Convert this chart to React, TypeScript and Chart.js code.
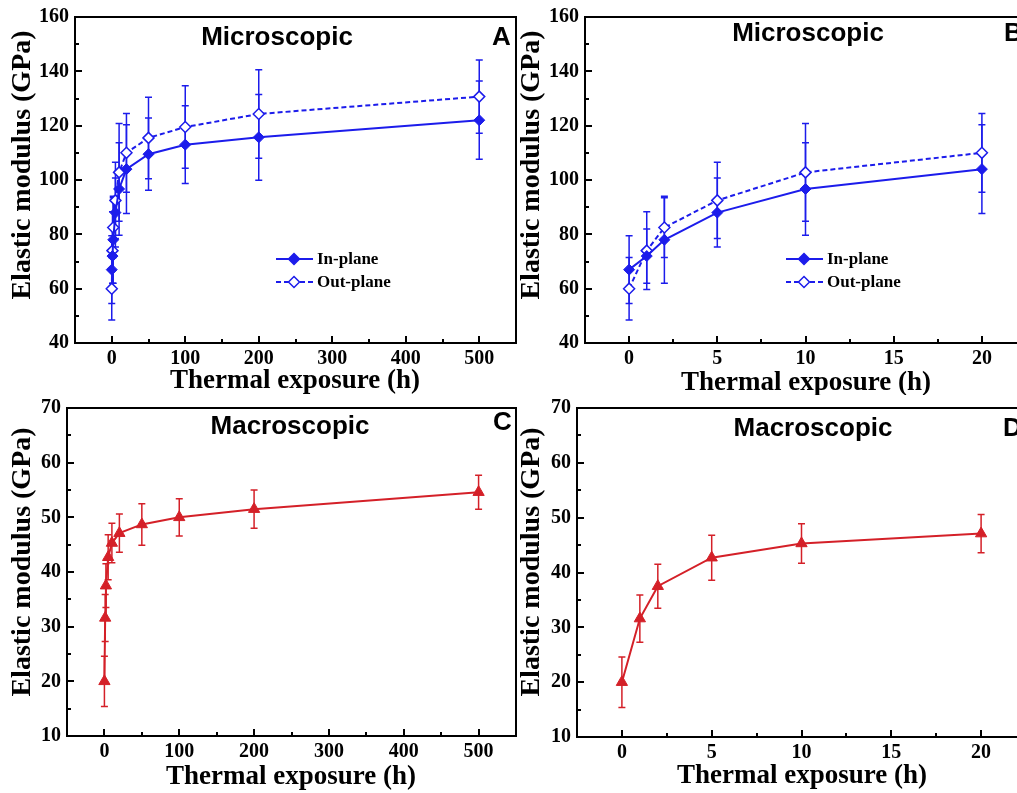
import React, { useEffect, useRef } from "react";
import { Chart, registerables } from "chart.js";

Chart.register(...registerables);

// ---------- data ----------
const exposureLong = [0, 1, 2, 5, 10, 20, 50, 100, 200, 500];
const exposureShort = [0, 1, 2, 5, 10, 20];

const inPlane = [67, 72, 78, 88, 96.7, 104, 109.5, 113, 115.7, 122];
const inPlaneErr = [12.5, 10, 16, 12.7, 17, 16.3, 13.3, 14.3, 15.8, 14.4];
const outPlane = [60, 74, 82.5, 92.5, 102.8, 110, 115.5, 119.5, 124.3, 130.7];
const outPlaneErr = [11.5, 14.3, 11, 14, 18, 14.5, 15, 15.2, 16.3, 13.5];
const macro = [20, 31.6, 37.5, 42.7, 45.3, 47.1, 48.7, 50, 51.5, 54.6];
const macroErr = [4.6, 4.3, 4, 4.1, 3.6, 3.5, 3.8, 3.4, 3.5, 3.1];

const xTicksLong = [0, 100, 200, 300, 400, 500];
const xMinorLong = [50, 150, 250, 350, 450];
const xTicksShort = [0, 5, 10, 15, 20];
const xMinorShort = [2.5, 7.5, 12.5, 17.5];
const yTicksMicro = [40, 60, 80, 100, 120, 140, 160];
const yMinorMicro = [50, 70, 90, 110, 130, 150];
const yTicksMacro = [10, 20, 30, 40, 50, 60, 70];
const yMinorMacro = [15, 25, 35, 45, 55, 65];

const legendLabels = ["In-plane", "Out-plane"];
const titleMicro = "Microscopic";
const titleMacro = "Macroscopic";
const xTitle = "Thermal exposure (h)";
const yTitle = "Elastic modulus (GPa)";

const BLUE = "rgb(28,28,235)";
const RED = "rgb(212,32,40)";
const SERIF = "'Liberation Serif', 'Times New Roman', serif";
const SANS = "'Liberation Sans', Arial, sans-serif";

type Panel = {
  key: string;
  left: number;
  top: number;
  w: number;
  h: number;
  area: { l: number; t: number; r: number; b: number };
  xMin: number;
  xMax: number;
  yMin: number;
  yMax: number;
  xTicks: number[];
  xMinor: number[];
  yTicks: number[];
  yMinor: number[];
  micro: boolean;
  n: number;
  title: string;
  titlePos: [number, number];
  letter: string;
  letterPos: [number, number];
  xTitlePos: [number, number];
  yTitlePos: [number, number];
  legendPos?: [number, number];
};

const panels: Panel[] = [
  {
    key: "A", left: 0, top: 0, w: 530, h: 395,
    area: { l: 75, t: 17, r: 516, b: 343 },
    xMin: -50, xMax: 550, yMin: 40, yMax: 160,
    xTicks: xTicksLong, xMinor: xMinorLong, yTicks: yTicksMicro, yMinor: yMinorMicro,
    micro: true, n: 10, title: titleMicro, titlePos: [277, 38], letter: "A", letterPos: [492, 38],
    xTitlePos: [295, 381], yTitlePos: [23, 165], legendPos: [276, 259],
  },
  {
    key: "B", left: 518, top: 0, w: 520, h: 395,
    area: { l: 67, t: 17, r: 508, b: 343 },
    xMin: -2.5, xMax: 22.5, yMin: 40, yMax: 160,
    xTicks: xTicksShort, xMinor: xMinorShort, yTicks: yTicksMicro, yMinor: yMinorMicro,
    micro: true, n: 6, title: titleMicro, titlePos: [808, 34], letter: "B", letterPos: [1004, 34],
    xTitlePos: [806, 383], yTitlePos: [532, 165], legendPos: [786, 259],
  },
  {
    key: "C", left: 0, top: 395, w: 530, h: 398,
    area: { l: 67, t: 13, r: 516, b: 341 },
    xMin: -50, xMax: 550, yMin: 10, yMax: 70,
    xTicks: xTicksLong, xMinor: xMinorLong, yTicks: yTicksMacro, yMinor: yMinorMacro,
    micro: false, n: 10, title: titleMacro, titlePos: [290, 427], letter: "C", letterPos: [493, 423],
    xTitlePos: [291, 777], yTitlePos: [23, 562],
  },
  {
    key: "D", left: 518, top: 395, w: 520, h: 398,
    area: { l: 59, t: 13, r: 508, b: 342 },
    xMin: -2.5, xMax: 22.5, yMin: 10, yMax: 70,
    xTicks: xTicksShort, xMinor: xMinorShort, yTicks: yTicksMacro, yMinor: yMinorMacro,
    micro: false, n: 6, title: titleMacro, titlePos: [813, 429], letter: "D", letterPos: [1003, 429],
    xTitlePos: [802, 776], yTitlePos: [532, 562],
  },
];

function pts(xs: number[], ys: number[], n: number) {
  return xs.slice(0, n).map((x, i) => ({ x, y: ys[i] }));
}

const errorBarPlugin = {
  id: "errorBars",
  beforeDatasetsDraw(chart: any, _args: any, opts: any) {
    const { ctx } = chart;
    const xs = chart.scales.x;
    const ys = chart.scales.y;
    const errs: number[][] = opts.errors || [];
    chart.data.datasets.forEach((ds: any, di: number) => {
      const e = errs[di];
      if (!e) return;
      ctx.save();
      ctx.strokeStyle = ds.borderColor;
      ctx.lineWidth = 1.5;
      ds.data.forEach((p: any, i: number) => {
        const px = xs.getPixelForValue(p.x);
        const t = ys.getPixelForValue(p.y + e[i]);
        const b = ys.getPixelForValue(p.y - e[i]);
        ctx.beginPath();
        ctx.moveTo(px, t);
        ctx.lineTo(px, b);
        ctx.moveTo(px - 3.5, t);
        ctx.lineTo(px + 3.5, t);
        ctx.moveTo(px - 3.5, b);
        ctx.lineTo(px + 3.5, b);
        ctx.stroke();
      });
      ctx.restore();
    });
  },
};

const framePlugin = {
  id: "frame",
  afterDraw(chart: any, _args: any, opts: any) {
    const { ctx, chartArea: a } = chart;
    const xs = chart.scales.x;
    const ys = chart.scales.y;
    ctx.save();
    ctx.strokeStyle = "#000";
    ctx.lineWidth = 2;
    ctx.strokeRect(a.left, a.top, a.right - a.left, a.bottom - a.top);
    ctx.beginPath();
    (opts.xMajor || []).forEach((v: number) => {
      const p = Math.round(xs.getPixelForValue(v));
      ctx.moveTo(p, a.bottom);
      ctx.lineTo(p, a.bottom - 7);
    });
    (opts.xMinor || []).forEach((v: number) => {
      const p = Math.round(xs.getPixelForValue(v));
      ctx.moveTo(p, a.bottom);
      ctx.lineTo(p, a.bottom - 4);
    });
    (opts.yMajor || []).forEach((v: number) => {
      const p = Math.round(ys.getPixelForValue(v));
      ctx.moveTo(a.left, p);
      ctx.lineTo(a.left + 7, p);
    });
    (opts.yMinor || []).forEach((v: number) => {
      const p = Math.round(ys.getPixelForValue(v));
      ctx.moveTo(a.left, p);
      ctx.lineTo(a.left + 4, p);
    });
    ctx.stroke();
    ctx.restore();
  },
};

const textPlugin = {
  id: "texts",
  afterDraw(chart: any, _args: any, opts: any) {
    const { ctx } = chart;
    const p: Panel = opts.panel;
    const ox = p.left;
    const oy = p.top;
    ctx.save();
    ctx.fillStyle = "#000";
    ctx.textBaseline = "middle";
    // panel title
    ctx.font = `bold 26px ${SANS}`;
    ctx.textAlign = "center";
    ctx.fillText(p.title, p.titlePos[0] - ox, p.titlePos[1] - oy);
    // letter
    ctx.textAlign = "left";
    ctx.fillText(p.letter, p.letterPos[0] - ox, p.letterPos[1] - oy);
    // x title
    ctx.font = `bold 27px ${SERIF}`;
    ctx.textAlign = "center";
    ctx.fillText(xTitle, p.xTitlePos[0] - ox, p.xTitlePos[1] - oy);
    // y title
    ctx.save();
    ctx.translate(p.yTitlePos[0] - ox, p.yTitlePos[1] - oy);
    ctx.rotate(-Math.PI / 2);
    ctx.font = `bold 28px ${SERIF}`;
    ctx.fillText(yTitle, 0, 0);
    ctx.restore();
    // legend
    if (p.legendPos) {
      const [lx0, ly0] = p.legendPos;
      const lx = lx0 - ox;
      const ly = ly0 - oy;
      ctx.font = `bold 17px ${SERIF}`;
      ctx.textAlign = "left";
      for (let r = 0; r < 2; r++) {
        const y = ly + r * 23;
        ctx.save();
        ctx.strokeStyle = BLUE;
        ctx.lineWidth = 2;
        if (r === 1) ctx.setLineDash([5, 3]);
        ctx.beginPath();
        ctx.moveTo(lx, y);
        ctx.lineTo(lx + 37, y);
        ctx.stroke();
        ctx.setLineDash([]);
        const mx = lx + 18;
        ctx.beginPath();
        ctx.moveTo(mx, y - 5.5);
        ctx.lineTo(mx + 5.5, y);
        ctx.lineTo(mx, y + 5.5);
        ctx.lineTo(mx - 5.5, y);
        ctx.closePath();
        ctx.fillStyle = r === 0 ? BLUE : "#fff";
        ctx.fill();
        ctx.lineWidth = 1.5;
        ctx.stroke();
        ctx.restore();
        ctx.fillStyle = "#000";
        ctx.fillText(legendLabels[r], lx + 41, y + 1);
      }
    }
    ctx.restore();
  },
};

function buildChart(canvas: HTMLCanvasElement, p: Panel) {
  const datasets: any[] = [];
  const errors: number[][] = [];
  if (p.micro) {
    datasets.push({
      label: legendLabels[0],
      data: pts(exposureLong, inPlane, p.n),
      borderColor: BLUE,
      backgroundColor: BLUE,
      borderWidth: 2,
      pointStyle: "rectRot",
      pointRadius: 5.5,
      pointBorderWidth: 1,
      tension: 0,
    });
    errors.push(inPlaneErr);
    datasets.push({
      label: legendLabels[1],
      data: pts(exposureLong, outPlane, p.n),
      borderColor: BLUE,
      backgroundColor: "#fff",
      pointBackgroundColor: "#fff",
      borderWidth: 2,
      borderDash: [5, 3],
      pointStyle: "rectRot",
      pointRadius: 5.5,
      pointBorderWidth: 1.5,
      tension: 0,
    });
    errors.push(outPlaneErr);
  } else {
    datasets.push({
      label: "Macroscopic",
      data: pts(exposureLong, macro, p.n),
      borderColor: RED,
      backgroundColor: RED,
      borderWidth: 2,
      pointStyle: "triangle",
      pointRadius: 6.5,
      pointBorderWidth: 1,
      tension: 0,
    });
    errors.push(macroErr);
  }

  const tickFont = { family: SERIF, size: 20, weight: "bold" as const };

  return new Chart(canvas, {
    type: "line",
    data: { datasets },
    options: {
      responsive: false,
      animation: false,
      devicePixelRatio: 1,
      layout: { padding: { top: p.area.t, right: p.w - p.area.r, left: 0, bottom: 0 } },
      plugins: {
        legend: { display: false },
        tooltip: { enabled: false },
        errorBars: { errors },
        frame: { xMajor: p.xTicks, xMinor: p.xMinor, yMajor: p.yTicks, yMinor: p.yMinor },
        texts: { panel: p },
      } as any,
      scales: {
        x: {
          type: "linear",
          min: p.xMin,
          max: p.xMax,
          grid: { display: false, drawTicks: false },
          border: { display: false },
          ticks: { color: "#000", font: tickFont, padding: 4, maxRotation: 0, autoSkip: false },
          afterBuildTicks: (s: any) => {
            s.ticks = p.xTicks.map((v) => ({ value: v }));
          },
          afterFit: (s: any) => {
            s.height = p.h - p.area.b;
            s.paddingLeft = 0;
            s.paddingRight = 0;
          },
        },
        y: {
          type: "linear",
          min: p.yMin,
          max: p.yMax,
          grid: { display: false, drawTicks: false },
          border: { display: false },
          ticks: { color: "#000", font: tickFont, padding: 6, autoSkip: false },
          afterBuildTicks: (s: any) => {
            s.ticks = p.yTicks.map((v) => ({ value: v }));
          },
          afterFit: (s: any) => {
            s.width = p.area.l;
            s.paddingTop = 0;
            s.paddingBottom = 0;
          },
        },
      },
    },
    plugins: [errorBarPlugin, framePlugin, textPlugin],
  });
}

function PanelChart({ p }: { p: Panel }) {
  const ref = useRef<HTMLCanvasElement | null>(null);
  useEffect(() => {
    if (!ref.current) return;
    const c = buildChart(ref.current, p);
    return () => c.destroy();
  }, [p]);
  return (
    <div style={{ position: "absolute", left: p.left, top: p.top, width: p.w, height: p.h }}>
      <canvas ref={ref} width={p.w} height={p.h} style={{ width: p.w, height: p.h, display: "block" }} />
    </div>
  );
}

export default function App() {
  return (
    <div
      style={{
        position: "absolute",
        left: 0,
        top: 0,
        width: 1017,
        height: 793,
        overflow: "hidden",
        background: "#fff",
      }}
    >
      {panels.map((p) => (
        <PanelChart key={p.key} p={p} />
      ))}
    </div>
  );
}
